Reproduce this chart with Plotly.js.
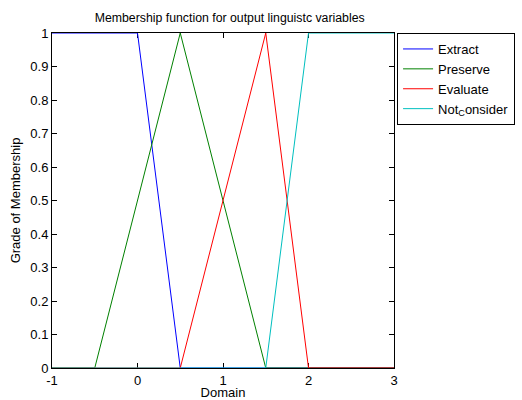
<!DOCTYPE html>
<html><head><meta charset="utf-8">
<script src="https://cdn.plot.ly/plotly-3.0.1.min.js"></script>
<style>html,body{margin:0;padding:0;background:#fff}</style>
</head><body>
<div id="chart" style="width:522px;height:400px"></div>
<script>
const seriesNames = ["Extract", "Preserve", "Evaluate", "Not<sub>C</sub>onsider"];
const seriesColors = ["#0000ff", "#008000", "#ff0000", "#00bfbf"];
const extractX = [-1, 0, 0.5, 3];
const extractY = [1, 1, 0, 0];
const preserveX = [-1, -0.5, 0.5, 1.5, 3];
const preserveY = [0, 0, 1, 0, 0];
const evaluateX = [-1, 0.5, 1.5, 2, 3];
const evaluateY = [0, 0, 1, 0, 0];
const notConsiderX = [-1, 1.5, 2, 3];
const notConsiderY = [0, 0, 1, 1];
const xTicks = [-1, 0, 1, 2, 3];
const yTicks = [0, 0.1, 0.2, 0.3, 0.4, 0.5, 0.6, 0.7, 0.8, 0.9, 1];
const yTickText = ["0", "0.1", "0.2", "0.3", "0.4", "0.5", "0.6", "0.7", "0.8", "0.9", "1"];

const xs = [extractX, preserveX, evaluateX, notConsiderX];
const ys = [extractY, preserveY, evaluateY, notConsiderY];
const traces = xs.map((x, i) => ({
  x: x, y: ys[i], type: "scatter", mode: "lines", name: seriesNames[i],
  line: {color: seriesColors[i], width: 1}, cliponaxis: false
}));

const axisCommon = {
  showgrid: false, zeroline: false, showline: true, linecolor: "#000", linewidth: 1,
  mirror: "ticks", ticks: "inside", ticklen: 5, tickcolor: "#000", tickwidth: 1,
  tickfont: {family: "Liberation Sans, Arial, sans-serif", size: 13, color: "#000"},
  layer: "below traces"
};

const layout = {
  width: 522, height: 400,
  margin: {l: 52, r: 128, t: 33, b: 32, autoexpand: false},
  paper_bgcolor: "#fff", plot_bgcolor: "#fff",
  font: {family: "Liberation Sans, Arial, sans-serif", size: 13, color: "#000"},
  title: {text: "Membership function for output linguistc variables",
    font: {size: 12.3, color: "#000"}, x: 0.44, xanchor: "center", y: 0.955, yanchor: "middle"},
  xaxis: Object.assign({}, axisCommon, {range: [-1, 3], tickvals: xTicks, ticktext: xTicks.map(String),
    automargin: false, title: {text: "Domain", font: {size: 13}, standoff: 3}}),
  yaxis: Object.assign({}, axisCommon, {range: [0, 1], tickvals: yTicks, ticktext: yTickText,
    automargin: false, title: {text: "Grade of Membership", font: {size: 13}, standoff: 6}}),
  showlegend: true,
  legend: {x: 1.009, xanchor: "left", y: 1.0, yanchor: "top", bordercolor: "#000", borderwidth: 1,
    bgcolor: "#fff", font: {size: 13}, tracegroupgap: 0, itemwidth: 30}
};

Plotly.newPlot("chart", traces, layout, {displayModeBar: false, staticPlot: true});
</script>
</body></html>
